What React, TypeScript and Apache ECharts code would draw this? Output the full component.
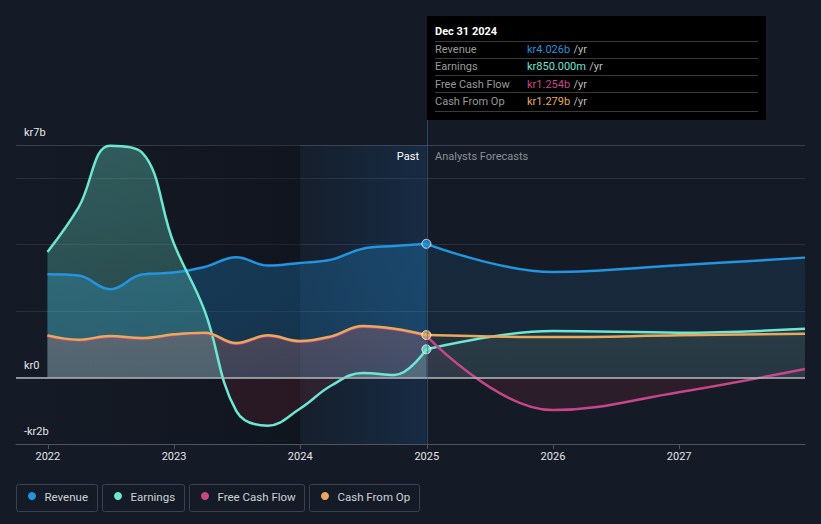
import React, { useEffect, useRef } from 'react';
import * as echarts from 'echarts';

// ---------- data ----------
const pastDates = ['2021-12-31','2022-03-31','2022-06-30','2022-09-30','2022-12-31','2023-03-31','2023-06-30','2023-09-30','2023-12-31','2024-03-31','2024-06-30','2024-09-30','2024-12-31'];
const forecastDates = ['2025-12-31','2026-12-31','2027-12-31'];

const revenuePast = [3.11, 3.07, 2.66, 3.10, 3.16, 3.33, 3.62, 3.37, 3.45, 3.55, 3.88, 3.96, 4.026];
const revenueForecast = [3.18, 3.38, 3.61];
const earningsPast = [3.78, 5.12, 6.98, 6.78, 4.05, 2.00, -1.00, -1.45, -0.94, -0.24, 0.14, 0.08, 0.85];
const earningsForecast = [1.40, 1.35, 1.47];
const fcfPast = [1.25, 1.12, 1.23, 1.17, 1.28, 1.33, 1.02, 1.25, 1.08, 1.22, 1.53, 1.45, 1.254];
const fcfForecast = [-0.98, -0.44, 0.26];
const cfoPast = [1.27, 1.14, 1.25, 1.19, 1.30, 1.35, 1.04, 1.27, 1.10, 1.24, 1.55, 1.47, 1.279];
const cfoForecast = [1.22, 1.27, 1.32];

const yearTicks = [2022, 2023, 2024, 2025, 2026, 2027];
const yLabels: Record<number, string> = { 7: 'kr7b', 0: 'kr0', [-2]: '-kr2b' };

const seriesNames = ['Revenue', 'Earnings', 'Free Cash Flow', 'Cash From Op'];
const tooltipTitle = 'Dec 31 2024';
const tooltipValues = ['kr4.026b', 'kr850.000m', 'kr1.254b', 'kr1.279b'];

const X_MIN = '2021-10-01';
const X_MAX = '2027-12-31';
const PAST_START = '2024-01-01';
const Y_MIN = -2;
const Y_MAX = 7;

// ---------- styles ----------
const COLORS = ['#2394df', '#6de6d2', '#c7468a', '#e9a95b'];
const BG = '#151b26';
const FONT = 'Roboto, "Noto Sans", sans-serif';
const GRID = { left: 16, right: 16, top: 145, bottom: 80 };
const W = 821, H = 524;
const GRID_TOP = GRID.top, GRID_BOTTOM = H - GRID.bottom;

const ts = (s: string) => {
  const [y, m, d] = s.split('-').map(Number);
  return Date.UTC(y, m - 1, d);
};

export default function App() {
  const ref = useRef<HTMLDivElement>(null);

  useEffect(() => {
    document.body.style.margin = '0';
    document.body.style.background = BG;
    if (!ref.current) return;
    const chart = echarts.init(ref.current, null, { renderer: 'svg' });

    const zeroOff = (Y_MAX - 0) / (Y_MAX - Y_MIN);
    const vgrad = (top: string, zero: string, neg: string) => ({
      type: 'linear', x: 0, y: GRID_TOP, x2: 0, y2: GRID_BOTTOM, global: true,
      colorStops: [
        { offset: 0, color: top },
        { offset: zeroOff, color: zero },
        { offset: zeroOff, color: neg },
        { offset: 1, color: neg },
      ],
    });

    const last = pastDates.length - 1;
    const past = (vals: number[]) => pastDates.map((d, i) => [ts(d), vals[i]]);
    const fut = (pv: number[], fv: number[]) => [[ts(pastDates[last]), pv[last]], ...forecastDates.map((d, i) => [ts(d), fv[i]])];

    const lineBase = (color: string, area: any) => ({
      type: 'line', smooth: 0.4, symbol: 'none', z: 3,
      lineStyle: { color, width: 2.5 }, itemStyle: { color },
      areaStyle: { color: area, opacity: 1 }, silent: true,
    });
    const NEG = 'rgba(190,45,60,0.14)';

    const series: any[] = [
      {
        type: 'line', data: [], z: 1, silent: true,
        markArea: {
          silent: true,
          data: [
            [{ xAxis: ts(X_MIN), itemStyle: { color: { type: 'linear', x: 0, y: 0, x2: 1, y2: 0, colorStops: [{ offset: 0, color: 'rgba(4,6,12,0)' }, { offset: 1, color: 'rgba(4,6,12,0.3)' }] } } }, { xAxis: ts(PAST_START) }],
            [{ xAxis: ts(PAST_START), itemStyle: { color: { type: 'linear', x: 0, y: 0, x2: 1, y2: 0, colorStops: [{ offset: 0, color: 'rgba(30,95,160,0.05)' }, { offset: 1, color: 'rgba(30,100,170,0.22)' }] } } }, { xAxis: ts(pastDates[last]) }],
          ],
        },
      },
      { name: seriesNames[0], data: past(revenuePast), ...lineBase(COLORS[0], vgrad('rgba(35,148,223,0.3)', 'rgba(35,148,223,0.24)', NEG)) },
      { name: seriesNames[0], data: fut(revenuePast, revenueForecast), ...lineBase(COLORS[0], vgrad('rgba(35,148,223,0.13)', 'rgba(35,148,223,0.1)', NEG)) },
      { name: seriesNames[1], data: past(earningsPast), ...lineBase(COLORS[1], vgrad('rgba(109,230,210,0.32)', 'rgba(109,230,210,0.22)', NEG)) },
      { name: seriesNames[1], data: fut(earningsPast, earningsForecast), ...lineBase(COLORS[1], vgrad('rgba(109,230,210,0.12)', 'rgba(109,230,210,0.05)', NEG)) },
      { name: seriesNames[2], data: past(fcfPast), ...lineBase(COLORS[2], vgrad('rgba(199,70,138,0.3)', 'rgba(199,70,138,0.12)', NEG)) },
      { name: seriesNames[2], data: fut(fcfPast, fcfForecast), ...lineBase(COLORS[2], vgrad('rgba(199,70,138,0.15)', 'rgba(199,70,138,0.06)', 'rgba(190,45,70,0.13)')) },
      { name: seriesNames[3], data: past(cfoPast), ...lineBase(COLORS[3], vgrad('rgba(233,169,91,0.25)', 'rgba(233,169,91,0.1)', NEG)) },
      { name: seriesNames[3], data: fut(cfoPast, cfoForecast), ...lineBase(COLORS[3], vgrad('rgba(233,169,91,0.14)', 'rgba(233,169,91,0.05)', NEG)) },
      {
        type: 'scatter', z: 6, silent: true, symbolSize: 9,
        data: [
          { value: [ts(pastDates[last]), revenuePast[last]], itemStyle: { color: COLORS[0] } },
          { value: [ts(pastDates[last]), earningsPast[last]], itemStyle: { color: COLORS[1] } },
          { value: [ts(pastDates[last]), cfoPast[last]], itemStyle: { color: COLORS[3] } },
        ],
        itemStyle: { borderColor: '#ffffff', borderWidth: 1 },
        markLine: {
          silent: true, symbol: ['none', 'none'], label: { show: false },
          lineStyle: { color: '#b4b7bd', width: 1.5, type: 'solid' },
          data: [{ yAxis: 0 }],
        },
      },
    ];

    const graphic: any[] = [];
    graphic.push({ type: 'line', z: 10, shape: { x1: 427.5, y1: 120, x2: 427.5, y2: GRID_BOTTOM }, style: { stroke: 'rgba(70,105,140,0.55)', lineWidth: 1 } });
    graphic.push({ type: 'text', z: 10, x: 419, y: 156, style: { text: 'Past', fill: '#ffffff', font: `11px ${FONT}`, align: 'right', verticalAlign: 'middle' } });
    graphic.push({ type: 'text', z: 10, x: 435, y: 156, style: { text: 'Analysts Forecasts', fill: '#8a9099', font: `11px ${FONT}`, align: 'left', verticalAlign: 'middle' } });

    // tooltip box
    graphic.push({ type: 'rect', z: 20, shape: { x: 427, y: 16, width: 339, height: 104 }, style: { fill: '#000000' } });
    graphic.push({ type: 'text', z: 21, x: 435, y: 31, style: { text: tooltipTitle, fill: '#ffffff', font: `bold 11px ${FONT}`, verticalAlign: 'middle' } });
    const sepY = [41.5, 58.5, 75.5, 92.5, 111.5];
    sepY.forEach((y) => graphic.push({ type: 'line', z: 21, shape: { x1: 435, y1: y, x2: 758, y2: y }, style: { stroke: '#3a3a3a', lineWidth: 1 } }));
    const rowY = [49.5, 66.5, 84, 101.5];
    seriesNames.forEach((n, i) => {
      graphic.push({ type: 'text', z: 21, x: 435, y: rowY[i], style: { text: n, fill: '#9a9a9a', font: `11px ${FONT}`, verticalAlign: 'middle' } });
      graphic.push({
        type: 'text', z: 21, x: 527, y: rowY[i],
        style: {
          text: `{v|${tooltipValues[i]}} {u|/yr}`, verticalAlign: 'middle',
          rich: {
            v: { fill: COLORS[i], font: `11px ${FONT}` },
            u: { fill: '#bdbdbd', font: `11px ${FONT}` },
          },
        },
      });
    });

    // legend boxes
    const boxX = [16.5, 102.5, 189.5, 309.5];
    const boxW = [81, 82, 115, 110];
    seriesNames.forEach((n, i) => {
      graphic.push({ type: 'rect', z: 10, shape: { x: boxX[i], y: 484.5, width: boxW[i], height: 27, r: 2 }, style: { fill: 'none', stroke: '#3a4150', lineWidth: 1 } });
      graphic.push({ type: 'circle', z: 11, shape: { cx: boxX[i] + 15.5, cy: 496, r: 4 }, style: { fill: COLORS[i] } });
      graphic.push({ type: 'text', z: 11, x: boxX[i] + 28, y: 496.5, style: { text: n, fill: '#cdd1d6', font: `11.5px ${FONT}`, verticalAlign: 'middle' } });
    });

    const yearTs = yearTicks.map((y) => Date.UTC(y, 0, 1));

    chart.setOption({
      animation: false,
      backgroundColor: BG,
      textStyle: { fontFamily: FONT },
      grid: { ...GRID, containLabel: false },
      xAxis: {
        type: 'value', min: ts(X_MIN), max: ts(X_MAX),
        axisLine: { onZero: false, lineStyle: { color: '#4f5560', width: 1 } },
        axisTick: { show: true, length: 5, lineStyle: { color: '#4f5560' }, customValues: yearTs },
        axisLabel: {
          customValues: yearTs, color: '#e2e4e8', fontSize: 11, margin: 7, fontFamily: FONT,
          formatter: (v: number) => String(new Date(v).getUTCFullYear()),
        },
        splitLine: { show: false },
      },
      yAxis: {
        type: 'value', min: Y_MIN, max: Y_MAX, interval: 2,
        axisLine: { show: false }, axisTick: { show: false },
        axisLabel: {
          inside: true, margin: 8, verticalAlign: 'bottom', padding: [0, 0, 7, 0],
          color: '#e6e8eb', fontSize: 11, fontFamily: FONT,
          formatter: (v: number) => yLabels[v] ?? '',
        },
        splitLine: { show: true, lineStyle: { color: ['#4f5560', '#2a303c', '#2a303c', '#2a303c', '#2a303c', '#3a404b'], width: 1 } },
      },
      series,
      graphic,
    });

    return () => chart.dispose();
  }, []);

  return <div ref={ref} style={{ width: W, height: H }} />;
}
